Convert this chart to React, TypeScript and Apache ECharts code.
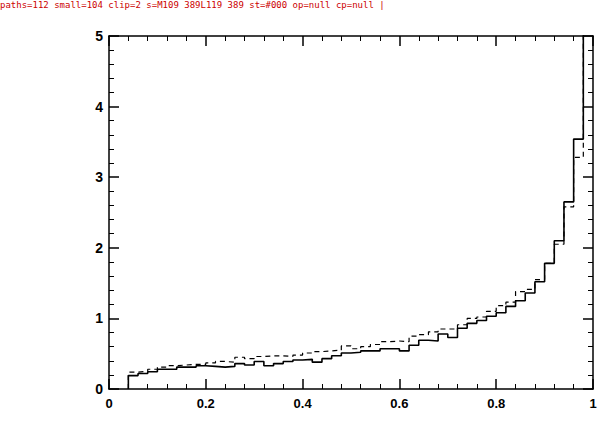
import React, { useEffect, useRef, useState } from "react";
import * as echarts from "echarts";

// Left edges of histogram bins (width 0.02), plus the last right edge
const binEdges = [
  0.04, 0.06, 0.08, 0.1, 0.12, 0.14, 0.16, 0.18, 0.2, 0.22, 0.24, 0.26,
  0.28, 0.3, 0.32, 0.34, 0.36, 0.38, 0.4, 0.42, 0.44, 0.46, 0.48, 0.5,
  0.52, 0.54, 0.56, 0.58, 0.6, 0.62, 0.64, 0.66, 0.68, 0.7, 0.72, 0.74,
  0.76, 0.78, 0.8, 0.82, 0.84, 0.86, 0.88, 0.9, 0.92, 0.94, 0.96, 0.98, 1.0,
];

// Solid histogram (one value per bin)
const solidValues = [
  0.19, 0.22, 0.245, 0.28, 0.28, 0.31, 0.31, 0.33, 0.32, 0.31, 0.32, 0.36,
  0.34, 0.39, 0.33, 0.36, 0.39, 0.41, 0.42, 0.38, 0.43, 0.47, 0.51, 0.52,
  0.54, 0.54, 0.57, 0.57, 0.54, 0.62, 0.69, 0.68, 0.78, 0.73, 0.86, 0.93,
  0.97, 1.03, 1.08, 1.17, 1.25, 1.36, 1.52, 1.78, 2.1, 2.65, 3.54, 6.0,
];

// Dashed histogram (one value per bin)
const dashedValues = [
  0.24, 0.25, 0.28, 0.31, 0.33, 0.34, 0.35, 0.35, 0.37, 0.39, 0.38, 0.45,
  0.43, 0.46, 0.47, 0.47, 0.46, 0.48, 0.51, 0.53, 0.54, 0.55, 0.61, 0.57,
  0.6, 0.63, 0.67, 0.68, 0.67, 0.75, 0.77, 0.81, 0.85, 0.85, 0.91, 1.0,
  1.02, 1.1, 1.18, 1.23, 1.38, 1.41, 1.55, 1.78, 2.05, 2.58, 3.28, 6.0,
];

const xTicks = { min: 0, max: 1, interval: 0.2 };
const yTicks = { min: 0, max: 5, interval: 1 };

function stepData(values: number[]) {
  const pts: number[][] = [[binEdges[0], 0]];
  values.forEach((v, i) => pts.push([binEdges[i], v]));
  pts.push([binEdges[binEdges.length - 1], values[values.length - 1]]);
  return pts;
}

function makeAxis(kind: "x" | "y", position: string, showLabel: boolean) {
  const t = kind === "x" ? xTicks : yTicks;
  return {
    type: "value",
    position,
    min: t.min,
    max: t.max,
    interval: t.interval,
    axisLine: { show: true, onZero: false, lineStyle: { color: "#000", width: 1.5 } },
    axisTick: { show: true, inside: true, length: 10, lineStyle: { color: "#000", width: 1.5 } },
    minorTick: { show: true, splitNumber: 5, length: 5, lineStyle: { color: "#000" } },
    splitLine: { show: false },
    axisLabel: showLabel
      ? {
          show: true,
          fontFamily: "Liberation Sans",
          fontWeight: "bold",
          fontSize: kind === "x" ? 13 : 14,
          color: "#000",
          margin: kind === "x" ? 8 : 6,
        }
      : { show: false },
  };
}

export default function App() {
  const ref = useRef<HTMLDivElement>(null);
  const [diag, setDiag] = useState("");
  useEffect(() => {
    document.body.style.margin = "0";
    if (!ref.current) return;
    const errs: string[] = [];
    const origErr = console.error;
    const origWarn = console.warn;
    console.error = (...a: any[]) => { errs.push("E:" + a.map(String).join(" ").slice(0, 80)); origErr(...a); };
    console.warn = (...a: any[]) => { errs.push("W:" + a.map(String).join(" ").slice(0, 80)); origWarn(...a); };
    const chart = echarts.init(ref.current, null, { renderer: "svg" });
    try {
      chart.setOption({
        animation: false,
        grid: { left: 109, right: 18, top: 36, bottom: 49 },
        xAxis: [makeAxis("x", "bottom", true), makeAxis("x", "top", false)],
        yAxis: [makeAxis("y", "left", true), makeAxis("y", "right", false)],
        series: [
          {
            type: "line",
            name: "solid",
            step: "end",
            symbol: "none",
            lineStyle: { color: "#000", width: 1.6 },
            data: stepData(solidValues),
          },
          {
            type: "line",
            name: "dashed",
            step: "end",
            symbol: "none",
            lineStyle: { color: "#000", width: 1.2, type: [5, 4] },
            data: stepData(dashedValues),
          },
        ],
      });
    } catch (e: any) {
      errs.push("X:" + String(e && e.message).slice(0, 80));
    }
    const svg = ref.current.querySelector("svg");
    let info = "";
    if (svg) {
      const paths = Array.from(svg.querySelectorAll("path"));
      let small = 0;
      let sample = "";
      paths.forEach((p: any) => {
        try {
          const b = p.getBBox();
          if ((b.width < 3 && b.height > 3 && b.height < 12) || (b.height < 3 && b.width > 3 && b.width < 12)) {
            small++;
            if (!sample) sample = p.getAttribute("d") + " st=" + p.getAttribute("stroke") + " op=" + p.getAttribute("opacity") + " cp=" + (p.getAttribute("clip-path") || (p.parentNode && p.parentNode.getAttribute && p.parentNode.getAttribute("clip-path")));
          }
        } catch (e) {}
      });
      info = "paths=" + paths.length + " small=" + small + " clip=" + svg.querySelectorAll("clipPath").length + " s=" + sample.slice(0, 90);
    }
    setDiag(info + " | " + errs.join(" ; ").slice(0, 200));
    return () => {
      console.error = origErr;
      console.warn = origWarn;
      chart.dispose();
    };
  }, []);
  return (
    <div style={{ position: "relative", width: 611, height: 438, background: "#fff" }}>
      <div ref={ref} style={{ width: 611, height: 438 }} />
      <div style={{ position: "absolute", left: 0, top: 0, width: 611, font: "9px monospace", color: "#c00", wordBreak: "break-all" }}>{diag}</div>
    </div>
  );
}
